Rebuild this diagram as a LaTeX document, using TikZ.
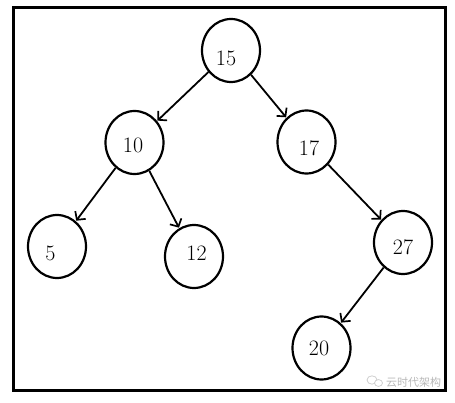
\documentclass[tikz,border=0pt]{standalone}
\usepackage{fontspec}
\newfontfamily\cjkfont{Noto Sans CJK SC}
\usetikzlibrary{shapes.geometric,arrows.meta}
\begin{document}
\begin{tikzpicture}[x=1pt,y=-1pt,
  treenode/.style={draw, line width=2.2pt, ellipse, minimum width=58pt, minimum height=63pt, inner sep=0pt},
  numtext/.style={font=\fontsize{22}{22}\selectfont, inner sep=0pt, text=black},
  edgearrow/.style={line width=1.8pt, shorten >=0.5pt, -{Straight Barb[length=6pt,width=13pt,line width=1.7pt]}}]
\useasboundingbox (0,0) rectangle (455,403);
\fill[white] (0,0) rectangle (455,403);
\draw[line width=2.8pt] (13.5,7.5) rectangle (445.5,390.5);
% circles
\node[treenode] (n15) at (231,50.5) {};
\node[treenode] (n10) at (134.5,142.5) {};
\node[treenode] (n17) at (306.5,142) {};
\node[treenode] (n5) at (57,246.5) {};
\node[treenode] (n12) at (194,256.5) {};
\node[treenode] (n27) at (403,242.5) {};
\node[treenode] (n20) at (321.5,348) {};
% numbers
\node[numtext] (t15) at (226,58) {15};
\node[numtext] (t10) at (133,145) {10};
\node[numtext] (t17) at (309,148) {17};
\node[numtext] (t5) at (50.5,253) {5};
\node[numtext] (t12) at (196.5,253) {12};
\node[numtext] (t27) at (403,247) {27};
\node[numtext] (t20) at (319,348) {20};
% edges
\draw[edgearrow] (n15) -- (n10);
\draw[edgearrow] (n15) -- (n17);
\draw[edgearrow] (n10) -- (n5);
\draw[edgearrow] (n10) -- (n12);
\draw[edgearrow] (n17) -- (n27);
\draw[edgearrow] (n27) -- (n20);
% watermark
\draw[gray!40, line width=0.7pt] (372,380) ellipse (5pt and 4.2pt);
\draw[gray!40, line width=0.7pt, fill=white] (378.5,383) ellipse (4pt and 3.4pt);
\node[text=gray!55, font=\cjkfont\fontsize{11}{11}\selectfont, inner sep=0pt] (wm) at (413.5,382) {云时代架构};
\end{tikzpicture}
\end{document}
